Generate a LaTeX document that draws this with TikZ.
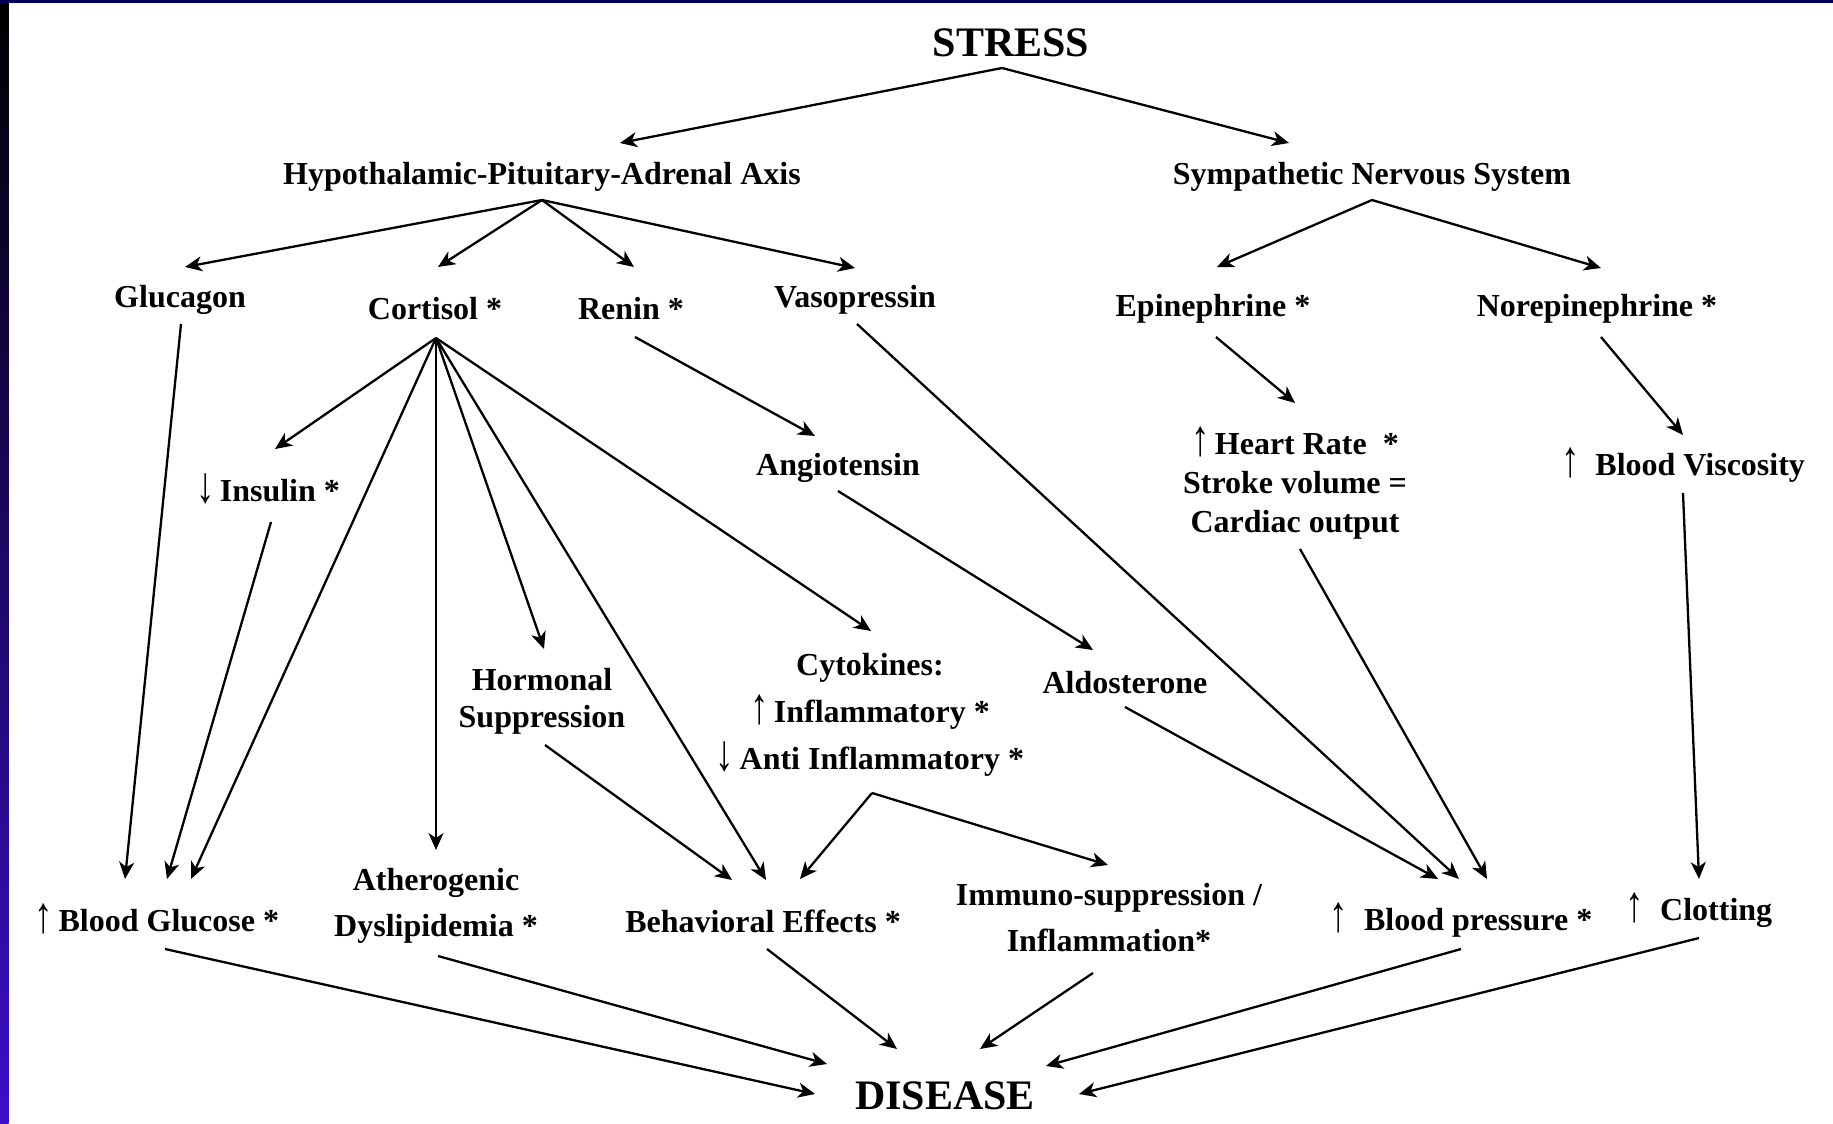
\documentclass[tikz,border=0pt]{standalone}
\usepackage{fontspec}
\setmainfont{Liberation Serif}
\usetikzlibrary{arrows.meta}
\definecolor{navy}{HTML}{00005A}
\definecolor{stripmid}{HTML}{0C0C70}
\definecolor{stripbot}{HTML}{3A10C8}
\newcommand{\upa}{\raisebox{-0.5pt}{\scalebox{1.15}[1.6]{\mdseries ↑}}}
\newcommand{\dna}{\raisebox{-0.5pt}{\scalebox{1.15}[1.6]{\mdseries ↓}}}
\begin{document}
\begin{tikzpicture}[x=0.5pt,y=-0.5pt,
  lbl/.style={font=\fontsize{16}{19}\selectfont\bfseries, inner sep=0pt, align=center, yshift=-2pt},
  big/.style={font=\fontsize{21}{24}\selectfont\bfseries, inner sep=0pt, yshift=-1pt},
  arr/.style={-{Stealth[length=8.5pt,width=7.5pt,inset=2.5pt]}, line width=1.15pt},
  ln/.style={line width=1.15pt}]
\useasboundingbox (0,0) rectangle (1833,1124);
\fill[white] (0,0) rectangle (1833,1124);
\shade[top color=black, middle color=stripmid, bottom color=stripbot] (0,0) rectangle (8.5,1124);
\fill[navy] (0,0) rectangle (1833,3);

% nodes
\node[big] (stress) at (1011,41) {STRESS};
\node[lbl] (hpa) at (542,173) {Hypothalamic-Pituitary-Adrenal Axis};
\node[lbl] (sns) at (1372,173) {Sympathetic Nervous System};
\node[lbl] (gluc) at (180,296) {Glucagon};
\node[lbl] (cort) at (435,305) {Cortisol *};
\node[lbl] (renin) at (631,305) {Renin *};
\node[lbl] (vaso) at (855,296) {Vasopressin};
\node[lbl] (epi) at (1213,305) {Epinephrine *};
\node[lbl] (norepi) at (1597,305) {Norepinephrine *};
\node[lbl] (ins) at (268,485) {\dna\,Insulin *};
\node[lbl] (ang) at (838,464) {Angiotensin};
\node[lbl, font=\fontsize{16}{19.5}\selectfont\bfseries] (hr) at (1295,479) {\upa\,Heart Rate\ \ *\\Stroke volume =\\Cardiac output};
\node[lbl] (visc) at (1683,461) {\upa\ \ Blood Viscosity};
\node[lbl, font=\fontsize{16}{18.5}\selectfont\bfseries] (horm) at (542,697) {Hormonal\\Suppression};
\node[lbl, font=\fontsize{16}{23.5}\selectfont\bfseries] (cyto) at (870,711) {Cytokines:\\\upa\,Inflammatory *\\\dna\,Anti Inflammatory *};
\node[lbl] (aldo) at (1125,679) {Aldosterone};
\node[lbl] (bg) at (157,915) {\upa\,Blood Glucose *};
\node[lbl, font=\fontsize{16}{23}\selectfont\bfseries] (ath) at (436,902) {Atherogenic\\Dyslipidemia *};
\node[lbl] (beh) at (763,917) {Behavioral Effects *};
\node[lbl, font=\fontsize{16}{23}\selectfont\bfseries] (imm) at (1109,914) {Immuno-suppression /\\Inflammation*};
\node[lbl] (bp) at (1461,916) {\upa\ \ Blood pressure *};
\node[lbl] (clot) at (1699,906) {\upa\ \ Clotting};
\node[big] (dis) at (945,1094) {DISEASE};

% connector end points
\coordinate (stressF) at (1002,68);
\coordinate (hpaT) at (620,143);
\coordinate (snsT) at (1289,143);
\coordinate (hpaF) at (542,200);
\coordinate (glucT) at (185,267);
\coordinate (cortT) at (438,267);
\coordinate (reninT) at (634,267);
\coordinate (vasoT) at (855,268);
\coordinate (snsF) at (1372,200);
\coordinate (epiT) at (1217,267);
\coordinate (norepiT) at (1601,268);
\coordinate (glucF) at (181,324);
\coordinate (cortF) at (436,338);
\coordinate (insT) at (275,449);
\coordinate (insF) at (271,522);
\coordinate (bgT1) at (125,879);
\coordinate (bgT2) at (167,879);
\coordinate (bgT3) at (191,879);
\coordinate (athT) at (436,850);
\coordinate (hormT) at (544,649);
\coordinate (hormF) at (545,745);
\coordinate (behT1) at (732,880);
\coordinate (behT2) at (766,880);
\coordinate (behT3) at (800,879);
\coordinate (cytoT) at (871,631);
\coordinate (cytoF) at (872,793);
\coordinate (immT) at (1108,865);
\coordinate (reninF) at (635,337);
\coordinate (angT) at (815,436);
\coordinate (angF) at (838,491);
\coordinate (aldoT) at (1093,650);
\coordinate (aldoF) at (1125,707);
\coordinate (vasoF) at (857,324);
\coordinate (bpT1) at (1438,879);
\coordinate (bpT2) at (1459,879);
\coordinate (bpT3) at (1487,879);
\coordinate (epiF) at (1216,337);
\coordinate (hrT) at (1295,403);
\coordinate (hrF) at (1300,549);
\coordinate (norepiF) at (1601,337);
\coordinate (viscT) at (1683,435);
\coordinate (viscF) at (1683,493);
\coordinate (clotT) at (1699,879);
\coordinate (bgF) at (165,949);
\coordinate (athF) at (438,956);
\coordinate (behF) at (767,949);
\coordinate (immF) at (1093,973);
\coordinate (bpF) at (1461,949);
\coordinate (clotF) at (1699,938);
\coordinate (disT1) at (815,1094);
\coordinate (disT2) at (827,1064);
\coordinate (disT3) at (897,1049);
\coordinate (disT4) at (980,1049);
\coordinate (disT5) at (1046,1066);
\coordinate (disT6) at (1079,1094);

% connectors
\draw[arr] (stressF) -- (hpaT);
\draw[arr] (stressF) -- (snsT);
\draw[arr] (hpaF) -- (glucT);
\draw[arr] (hpaF) -- (cortT);
\draw[arr] (hpaF) -- (reninT);
\draw[arr] (hpaF) -- (vasoT);
\draw[arr] (snsF) -- (epiT);
\draw[arr] (snsF) -- (norepiT);
\draw[arr] (glucF) -- (bgT1);
\draw[arr] (cortF) -- (insT);
\draw[arr] (cortF) -- (bgT3);
\draw[arr] (cortF) -- (athT);
\draw[arr] (cortF) -- (hormT);
\draw[arr] (cortF) -- (behT2);
\draw[arr] (cortF) -- (cytoT);
\draw[arr] (insF) -- (bgT2);
\draw[arr] (reninF) -- (angT);
\draw[arr] (angF) -- (aldoT);
\draw[arr] (vasoF) -- (bpT2);
\draw[arr] (aldoF) -- (bpT1);
\draw[arr] (epiF) -- (hrT);
\draw[arr] (hrF) -- (bpT3);
\draw[arr] (norepiF) -- (viscT);
\draw[arr] (viscF) -- (clotT);
\draw[arr] (hormF) -- (behT1);
\draw[arr] (cytoF) -- (behT3);
\draw[arr] (cytoF) -- (immT);
\draw[arr] (bgF) -- (disT1);
\draw[arr] (athF) -- (disT2);
\draw[arr] (behF) -- (disT3);
\draw[arr] (immF) -- (disT4);
\draw[arr] (bpF) -- (disT5);
\draw[arr] (clotF) -- (disT6);
\end{tikzpicture}
\end{document}
